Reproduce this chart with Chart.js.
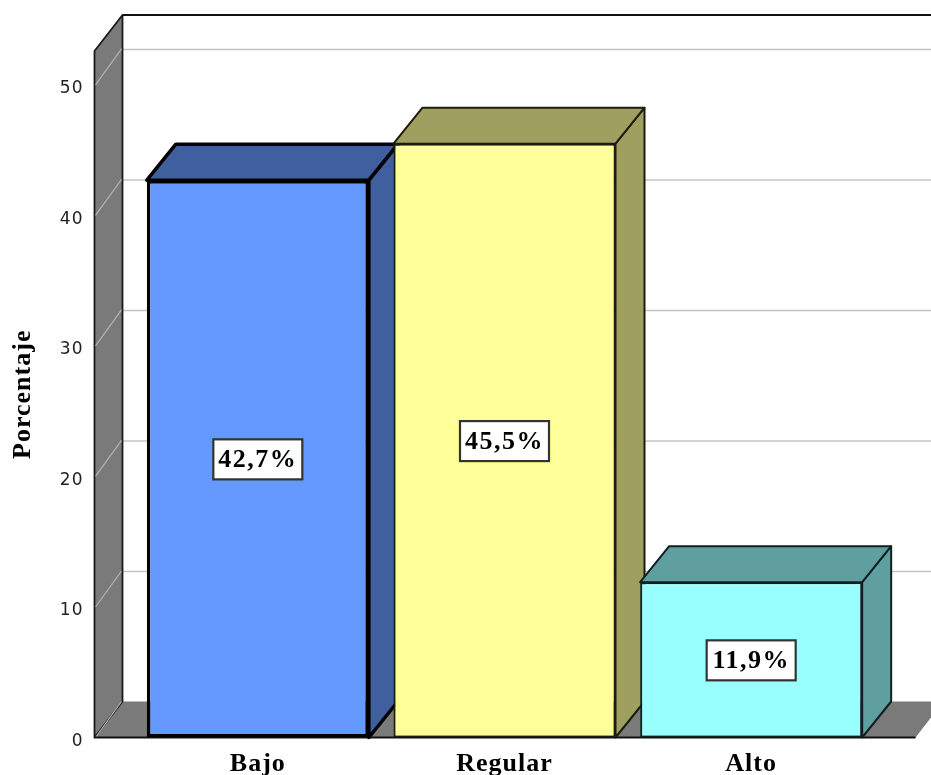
<!DOCTYPE html>
<html><head><meta charset="utf-8">
<style>html,body{margin:0;padding:0;background:#fff;overflow:hidden}#w{width:931px;height:775px;position:relative}canvas{display:block;filter:blur(.55px)}</style>
<script src="https://cdn.jsdelivr.net/npm/chart.js@4"></script>
</head><body><div id="w"><canvas id="c"></canvas></div>
<script>
const categories = ["Bajo", "Regular", "Alto"];
const percentages = [42.7, 45.5, 11.9];
const frontColors = ["#6699FF", "#FFFF99", "#99FFFF"];
const sideColors = ["#3F5F9F", "#9F9F5F", "#5F9F9F"];
const borderColors = ["#000000", "#1c1c10", "#102020"];
const borderWidths = [3.5, 2, 2];
const yTicks = [0, 10, 20, 30, 40, 50];
const yTitle = "Porcentaje";

const DX = 28, DY = 36, BAR_DX = 29;

function poly(ctx, pts, fill, stroke, lw) {
  ctx.beginPath();
  pts.forEach((p, i) => i ? ctx.lineTo(p[0], p[1]) : ctx.moveTo(p[0], p[1]));
  ctx.closePath();
  if (fill) { ctx.fillStyle = fill; ctx.fill(); }
  if (stroke) { ctx.strokeStyle = stroke; ctx.lineWidth = lw; ctx.lineJoin = "round"; ctx.stroke(); }
}

const box3d = {
  id: "box3d",
  beforeDraw(chart) { chart.ctx.letterSpacing = "1px"; },
  beforeDatasetsDraw(chart) {
    const { ctx, scales: { y }, chartArea: a } = chart;
    const x0 = a.left - 40, x1 = a.right + 41;
    const yb = y.getPixelForValue(0), yt = a.top;
    ctx.save();
    yTicks.forEach(v => {
      const py = y.getPixelForValue(v);
      if (v > 0) {
        ctx.strokeStyle = "#c4c4c4"; ctx.lineWidth = 1.6;
        ctx.beginPath(); ctx.moveTo(x0 + DX, py - DY + 0.5); ctx.lineTo(931, py - DY + 0.5); ctx.stroke();
      }
    });
    poly(ctx, [[x0, yb], [x0 + DX, yb - DY], [x1 + DX, yb - DY], [x1, yb]], "#7a7a7a");
    poly(ctx, [[x0, yt], [x0 + DX, yt - DY], [x0 + DX, yb - DY], [x0, yb]], "#7a7a7a", "#1a1a1a", 1.8);
    yTicks.forEach(v => {
      const py = y.getPixelForValue(v);
      ctx.strokeStyle = "#b4b4b4"; ctx.lineWidth = 1.2;
      ctx.beginPath(); ctx.moveTo(x0 + 1, py); ctx.lineTo(x0 + DX - 1, py - DY); ctx.stroke();
    });
    ctx.strokeStyle = "#111"; ctx.lineWidth = 2;
    ctx.beginPath(); ctx.moveTo(x0 + DX, yt - DY); ctx.lineTo(931, yt - DY); ctx.stroke();
    ctx.beginPath(); ctx.moveTo(x0, yb); ctx.lineTo(x1, yb); ctx.stroke();
    chart.getDatasetMeta(0).data.forEach((bar, i) => {
      const half = bar.width / 2, l = bar.x - half, r = bar.x + half, t = bar.y, b = bar.base;
      const lw = borderWidths[i], col = borderColors[i];
      poly(ctx, [[r, b], [r + BAR_DX, b - DY], [r + BAR_DX, t - DY], [r, t]], sideColors[i], col, lw);
      poly(ctx, [[l, t], [l + BAR_DX, t - DY], [r + BAR_DX, t - DY], [r, t]], sideColors[i], col, lw);
    });
    ctx.restore();
  },
  afterDatasetsDraw(chart) {
    const { ctx, scales: { y } } = chart;
    ctx.save();
    ctx.letterSpacing = "1.5px";
    ctx.font = "bold 26px 'Liberation Serif'";
    ctx.textAlign = "center"; ctx.textBaseline = "middle";
    chart.getDatasetMeta(0).data.forEach((bar, i) => {
      const cy = y.getPixelForValue(percentages[i] / 2) + 0.5;
      const w = 89, h = 40;
      ctx.fillStyle = "#fff"; ctx.strokeStyle = "#333"; ctx.lineWidth = 2.2;
      ctx.fillRect(bar.x - w / 2, cy - h / 2, w, h);
      ctx.strokeRect(bar.x - w / 2, cy - h / 2, w, h);
      ctx.fillStyle = "#000";
      ctx.fillText(percentages[i].toFixed(1).replace(".", ",") + "%", bar.x, cy + 1);
    });
    ctx.restore();
  }
};

new Chart(document.getElementById("c"), {
  type: "bar",
  data: {
    labels: categories,
    datasets: [{
      data: percentages,
      backgroundColor: frontColors,
      borderColor: borderColors,
      borderWidth: borderWidths,
      borderSkipped: false,
      barPercentage: 0.9,
      categoryPercentage: 1
    }]
  },
  plugins: [box3d],
  options: {
    responsive: true,
    maintainAspectRatio: false,
    animation: false,
    devicePixelRatio: 1,
    layout: { padding: { top: 51, right: 56.5, left: 0, bottom: 0 } },
    plugins: { legend: { display: false }, tooltip: { enabled: false }, title: { display: false } },
    scales: {
      x: {
        grid: { display: false },
        border: { display: false },
        ticks: { color: "#000", padding: 3, autoSkip: false, maxRotation: 0,
                 font: { family: "'Liberation Serif'", weight: "bold", size: 26 } },
        afterFit(s) { s.height = 37.5; s.paddingLeft = s.paddingRight = 0; }
      },
      y: {
        min: 0, max: 52.6,
        grid: { display: false, drawTicks: false },
        border: { display: false },
        ticks: { stepSize: 10, includeBounds: false, color: "#222", padding: 51,
                 callback: v => ["", String(v)],
                 font: { family: "'DejaVu Sans'", size: 17, lineHeight: "8px" } },
        title: { display: true, text: yTitle, color: "#000", padding: { top: 8, bottom: 0 },
                 font: { family: "'Liberation Serif'", weight: "bold", size: 26 } },
        afterFit(s) { s.width = 134.5; s.paddingTop = s.paddingBottom = 0; }
      }
    }
  }
});
</script></body></html>
